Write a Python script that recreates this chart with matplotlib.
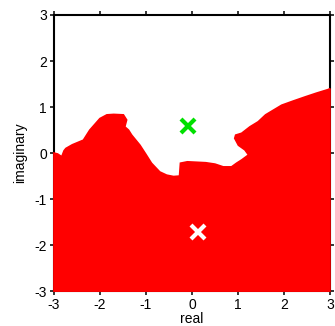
import matplotlib
matplotlib.use("Agg")
import matplotlib.pyplot as plt

plt.rcParams['font.family'] = ['Liberation Sans', 'DejaVu Sans']

# Upper boundary of the red region (polygon, traced), closed along the bottom
bx = [-3.0, -2.92, -2.83, -2.78, -2.74, -2.6, -2.36, -2.22, -2.0, -1.85, -1.7,
      -1.49, -1.42, -1.46, -1.38, -1.31, -1.13, -1.0, -0.88, -0.7, -0.55, -0.40,
      -0.27, -0.25, -0.1, 0.1, 0.3, 0.5, 0.68, 0.86, 0.97, 1.08, 1.23, 1.15,
      1.01, 0.93, 0.95, 1.08, 1.26, 1.44, 1.6, 1.95, 2.2, 2.46, 2.7, 2.96, 3.0,
      3.0, -3.0]
by = [0.0, -0.02, -0.08, 0.05, 0.10, 0.18, 0.28, 0.5, 0.75, 0.83, 0.84,
      0.83, 0.72, 0.57, 0.50, 0.39, 0.17, -0.03, -0.22, -0.41, -0.48, -0.51,
      -0.50, -0.22, -0.19, -0.20, -0.21, -0.24, -0.30, -0.30, -0.22, -0.15, -0.04, 0.07,
      0.17, 0.32, 0.39, 0.43, 0.57, 0.68, 0.83, 1.04, 1.13, 1.22, 1.30, 1.38, 1.40,
      -3.0, -3.0]

green_pt = (-0.08, 0.59)
white_pt = (0.14, -1.71)

ticks = [-3, -2, -1, 0, 1, 2, 3]
tick_labels = ['-3', '-2', '-1', '0', '1', '2', '3']

fig = plt.figure(figsize=(3.35, 3.26), dpi=100)
ax = fig.add_axes([0.161, 0.107, 0.824, 0.847])

ax.fill(bx, by, color='#ff0000', edgecolor='#ff0000', linewidth=1.2,
        zorder=3, clip_on=False)

ax.plot([green_pt[0]], [green_pt[1]], marker='x', color='#00e000',
        markersize=9.5, markeredgewidth=3, linestyle='none', zorder=4)
ax.plot([white_pt[0]], [white_pt[1]], marker='x', color='white',
        markersize=9.5, markeredgewidth=3, linestyle='none', zorder=4)

ax.set_xlim(-3, 3)
ax.set_ylim(-3, 3)
ax.set_xticks(ticks)
ax.set_xticklabels(tick_labels)
ax.set_yticks(ticks)
ax.set_yticklabels(tick_labels)

ax.tick_params(direction='out', length=3, width=1.1, labelsize=10, pad=2,
               top=True, right=True, labeltop=False, labelright=False)
for s in ax.spines.values():
    s.set_linewidth(1.5)

ax.set_xlabel('real', fontsize=10, labelpad=0)
ax.set_ylabel('imaginary', fontsize=10, labelpad=5)

fig.savefig('out.png', dpi=100)
